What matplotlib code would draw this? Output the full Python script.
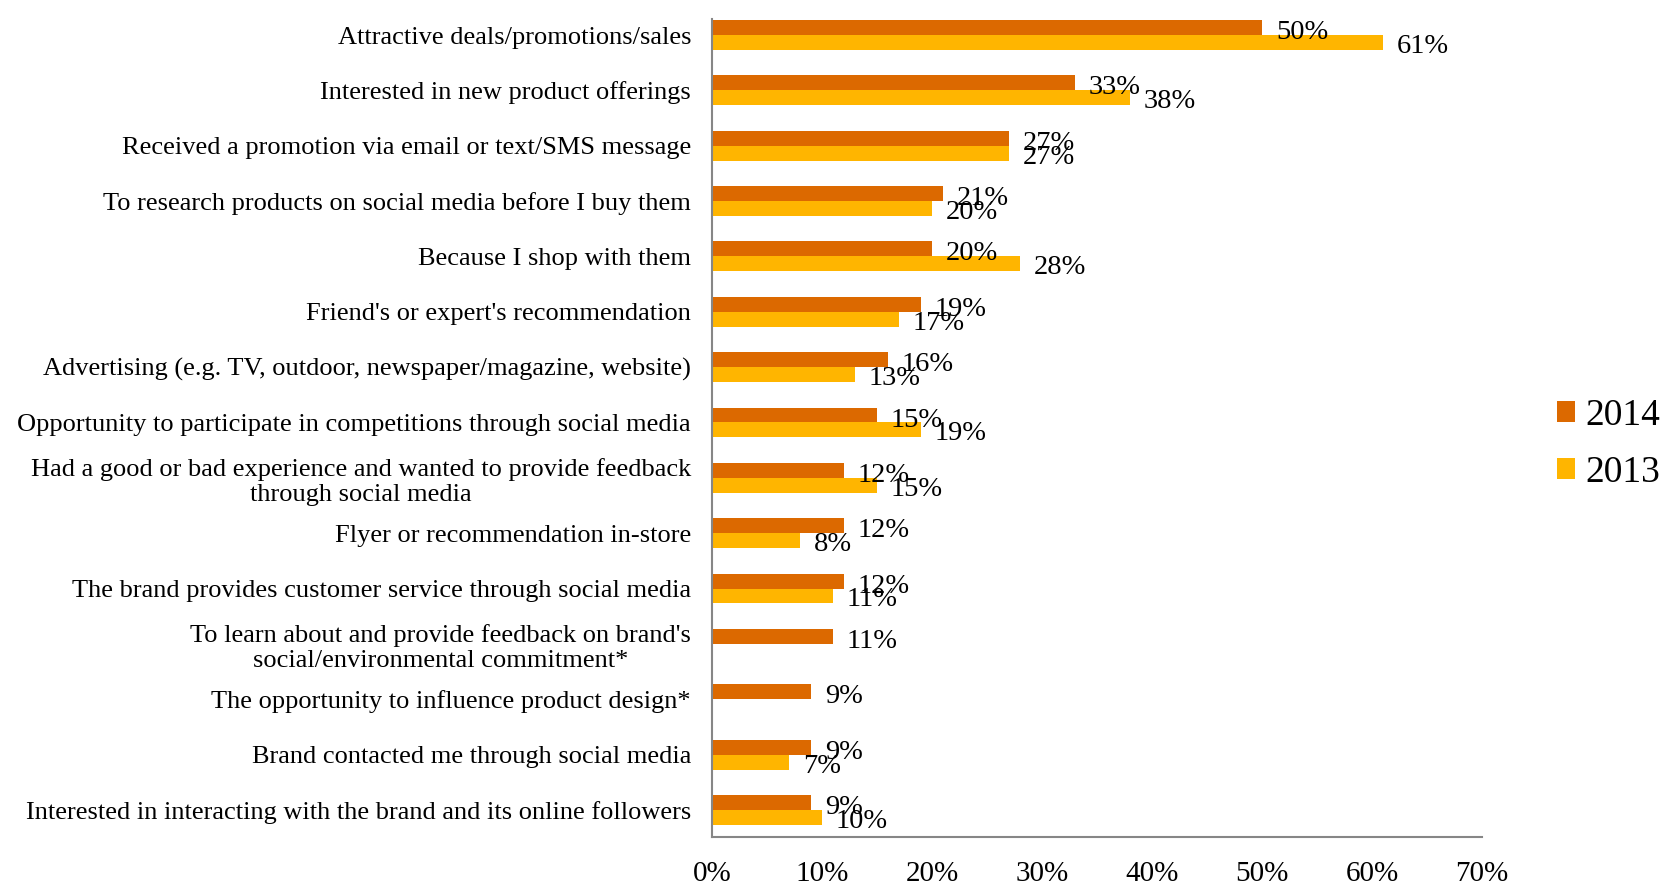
import matplotlib.pyplot as plt
import numpy as np

categories = [
    "Attractive deals/promotions/sales",
    "Interested in new product offerings",
    "Received a promotion via email or text/SMS message",
    "To research products on social media before I buy them",
    "Because I shop with them",
    "Friend's or expert's recommendation",
    "Advertising (e.g. TV, outdoor, newspaper/magazine, website)",
    "Opportunity to participate in competitions through social media",
    "Had a good or bad experience and wanted to provide feedback\nthrough social media",
    "Flyer or recommendation in-store",
    "The brand provides customer service through social media",
    "To learn about and provide feedback on brand's\nsocial/environmental commitment*",
    "The opportunity to influence product design*",
    "Brand contacted me through social media",
    "Interested in interacting with the brand and its online followers",
]
v2014 = [50, 33, 27, 21, 20, 19, 16, 15, 12, 12, 12, 11, 9, 9, 9]
v2013 = [61, 38, 27, 20, 28, 17, 13, 19, 15, 8, 11, None, None, 7, 10]
xticks = [0, 10, 20, 30, 40, 50, 60, 70]

c2014 = '#DC6900'
c2013 = '#FFB500'
plt.rcParams['font.family'] = ['Liberation Serif', 'DejaVu Serif']

fig = plt.figure(figsize=(16.72, 8.88), dpi=100)
ax = fig.add_axes([0.4258, 0.0574, 0.4606, 0.9212])

y = np.arange(len(categories))
h = 0.27
ax.barh(y - h / 2, v2014, height=h, color=c2014, label='2014')
y13 = [yy for yy, v in zip(y, v2013) if v is not None]
x13 = [v for v in v2013 if v is not None]
ax.barh(np.array(y13) + h / 2, x13, height=h, color=c2013, label='2013')

for yy, v in zip(y, v2014):
    ax.annotate(f"{v}%", (v, yy - h / 2), xytext=(14, -5), textcoords='offset pixels',
                va='center', ha='left', fontsize=20.5)
for yy, v in zip(y13, x13):
    ax.annotate(f"{v}%", (v, yy + h / 2), xytext=(14, -4), textcoords='offset pixels',
                va='center', ha='left', fontsize=20.5)

ax.set_xlim(0, 70)
ax.set_ylim(14.49, -0.29)
ax.set_xticks(xticks)
ax.set_xticklabels([f"{t}%" for t in xticks], fontsize=21)
ax.set_yticks(y)
ax.set_yticklabels(categories, fontsize=19, multialignment='center')
ax.tick_params(axis='x', length=0, pad=17)
ax.tick_params(axis='y', length=0, pad=15)
for s in ['top', 'right']:
    ax.spines[s].set_visible(False)
for s in ['left', 'bottom']:
    ax.spines[s].set_color('#868686')
    ax.spines[s].set_linewidth(1.5)

fig.legend(loc='center left', bbox_to_anchor=(0.931, 0.5), frameon=False,
           fontsize=27, handlelength=0.48, handleheight=0.48, handletextpad=0.29,
           labelspacing=0.6, borderaxespad=0, borderpad=0)

fig.savefig('out.png', dpi=100)
